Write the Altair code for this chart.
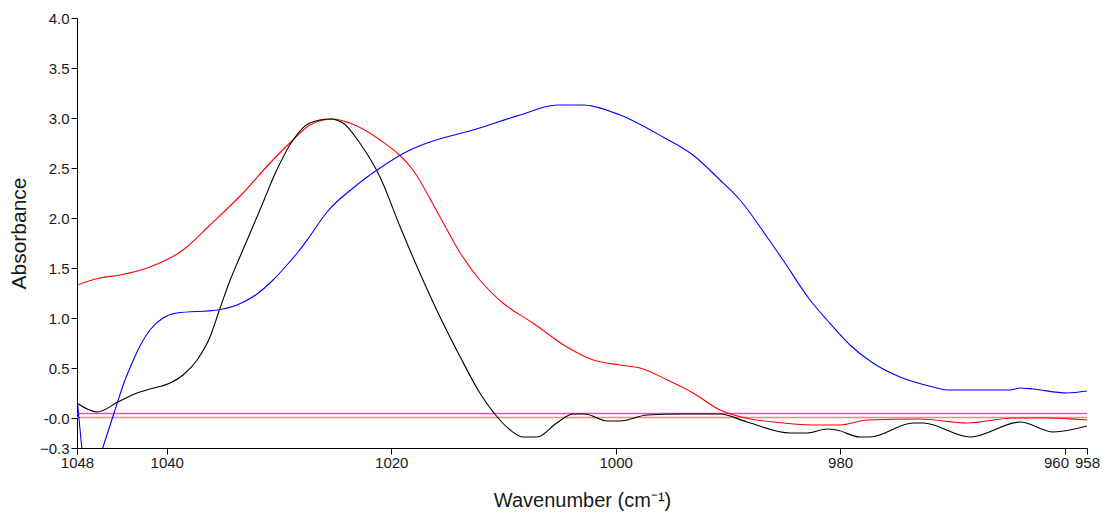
import altair as alt
import pandas as pd

# Absorbance spectra, wavenumber (cm-1) vs absorbance
black_wn = [1048.0, 1046.2, 1044.35, 1042.65, 1041.5, 1039.7, 1038.55, 1037.3, 1036.15,
            1035.25, 1034.35, 1033.45, 1031.7, 1030.2, 1028.75, 1027.25, 1025.45, 1024.3,
            1022.8, 1021.0, 1019.2, 1017.45, 1015.65, 1013.85, 1012.1, 1010.55, 1009.4,
            1008.25, 1007.0, 1005.25, 1003.8, 1002.75, 1000.75, 999.6, 997.2, 994.25,
            990.7, 988.3, 984.45, 982.95, 981.15, 980.3, 978.25, 977.35, 973.5, 972.6,
            968.4, 963.95, 961.0, 958.0]
black_abs = [0.15, 0.06, 0.16, 0.25, 0.29, 0.35, 0.43, 0.58, 0.81,
             1.10, 1.38, 1.62, 2.08, 2.48, 2.78, 2.95, 2.99, 2.95,
             2.75, 2.41, 1.91, 1.45, 1.01, 0.61, 0.25, 0.01, -0.12,
             -0.19, -0.19, -0.05, 0.04, 0.04, -0.03, -0.03, 0.03, 0.04,
             0.04, -0.04, -0.15, -0.15, -0.11, -0.12, -0.19, -0.19, -0.05, -0.05,
             -0.19, -0.04, -0.14, -0.08]

red_wn = [1048.0, 1045.95, 1044.17, 1041.5, 1038.55, 1036.15, 1033.2, 1030.8, 1028.75,
          1027.25, 1025.2, 1023.7, 1021.0, 1018.06, 1015.65, 1013.85, 1012.1, 1010.05,
          1007.37, 1004.34, 1002.0, 999.6, 997.83, 995.4, 993.1, 990.7, 988.0, 985.98,
          982.41, 980.0, 977.6, 972.88, 968.69, 964.59, 961.56, 958.0]
red_abs = [1.33, 1.40, 1.43, 1.51, 1.68, 1.93, 2.25, 2.55, 2.78,
           2.93, 2.99, 2.95, 2.78, 2.48, 2.01, 1.65, 1.38, 1.15,
           0.95, 0.71, 0.58, 0.53, 0.50, 0.38, 0.25, 0.08, -0.01, -0.04,
           -0.07, -0.07, -0.02, -0.01, -0.05, 0.0, 0.0, -0.02]

blue_wn = [1048.0, 1047.58, 1047.2, 1045.68, 1044.7, 1043.72, 1043.28, 1042.39, 1041.5,
           1040.34, 1039.09, 1035.52, 1033.74, 1031.96, 1030.53, 1029.29, 1028.3, 1027.24,
           1025.72, 1023.4, 1021.0, 1018.33, 1016.81, 1012.71, 1008.52, 1005.23, 1002.91,
           999.61, 995.78, 993.11, 990.7, 988.92, 986.51, 985.09, 982.68, 981.17, 979.12,
           977.07, 974.66, 971.72, 970.47, 964.86, 963.97, 962.81, 959.78, 958.0]
blue_abs = [0.20, -0.29, -0.78, -0.29, 0.05, 0.38, 0.50, 0.72, 0.88,
            1.00, 1.05, 1.08, 1.13, 1.24, 1.38, 1.53, 1.66, 1.82,
            2.06, 2.30, 2.50, 2.68, 2.75, 2.88, 3.03, 3.13, 3.13,
            3.03, 2.81, 2.63, 2.38, 2.18, 1.81, 1.58, 1.18, 0.98, 0.73,
            0.55, 0.41, 0.31, 0.28, 0.28, 0.30, 0.29, 0.25, 0.27]

# flat baseline traces
pink_wn = [1048.0, 958.0]
pink_abs = [0.045, 0.045]
rose_wn = [1048.0, 958.0]
rose_abs = [0.005, 0.005]

series_names = ["rose", "pink", "red", "black", "blue"]
series_colors = ["#d8948c", "#f050b0", "#ff0000", "#000000", "#0000ff"]

frames = []
for name, wn, ab in [("rose", rose_wn, rose_abs), ("pink", pink_wn, pink_abs),
                     ("red", red_wn, red_abs), ("black", black_wn, black_abs),
                     ("blue", blue_wn, blue_abs)]:
    frames.append(pd.DataFrame({"wn": wn, "abs": ab, "series": name}))
df = pd.concat(frames, ignore_index=True)

x_ticks = [1048, 1040, 1020, 1000, 980, 960, 958]
y_ticks = [-0.3, 0.0, 0.5, 1.0, 1.5, 2.0, 2.5, 3.0, 3.5, 4.0]

font = "Liberation Sans"

x_enc = alt.X(
    "wn:Q",
    scale=alt.Scale(domain=[958, 1048], reverse=True, nice=False, zero=False),
    axis=alt.Axis(values=x_ticks, title="Wavenumber (cm\u207b\u00b9)",
                  format="d", labelFlush=False, labelOverlap=False,
                  labelAlign={"condition": {"test": "datum.value == 960", "value": "right"},
                              "value": "center"},
                  labelOffset={"condition": {"test": "datum.value == 960", "value": 4},
                               "value": 0},
                  grid=False, tickSize=6, labelPadding=1,
                  titleFontSize=20, titlePadding=20),
)
y_enc = alt.Y(
    "abs:Q",
    scale=alt.Scale(domain=[-0.3, 4.0], nice=False, zero=False),
    axis=alt.Axis(values=y_ticks, title="Absorbance",
                  labelExpr="datum.value == 0 ? '-0.0' : format(datum.value, '.1f')",
                  labelOverlap=False, labelFlush=False,
                  grid=False, tickSize=6, labelPadding=2,
                  titleFontSize=21, titlePadding=10),
)
color_enc = alt.Color("series:N",
                      scale=alt.Scale(domain=series_names, range=series_colors),
                      legend=None)

base = alt.Chart(df).encode(x=x_enc, y=y_enc, color=color_enc, detail="series:N")

flat = base.transform_filter(
    alt.FieldOneOfPredicate(field="series", oneOf=["rose", "pink"])
).mark_line(strokeWidth=1.4, clip=True)

spectra = base.transform_filter(
    alt.FieldOneOfPredicate(field="series", oneOf=["red", "black", "blue"])
).mark_line(strokeWidth=1.1, interpolate="monotone", clip=True)

chart = alt.layer(flat, spectra).properties(
    width=1010,
    height=430,
    autosize=alt.AutoSizeParams(type="none"),
    padding={"left": 77, "top": 18, "right": 21, "bottom": 66},
).configure_view(
    stroke=None
).configure_axis(
    domainColor="#000000",
    tickColor="#000000",
    labelColor="#1a1a1a",
    titleColor="#1a1a1a",
    labelFont=font,
    titleFont=font,
    labelFontSize=15,
    titleFontWeight="normal",
    domainWidth=1,
    tickWidth=1,
)

chart.save("out.html", embed_options={"renderer": "svg", "actions": False})
